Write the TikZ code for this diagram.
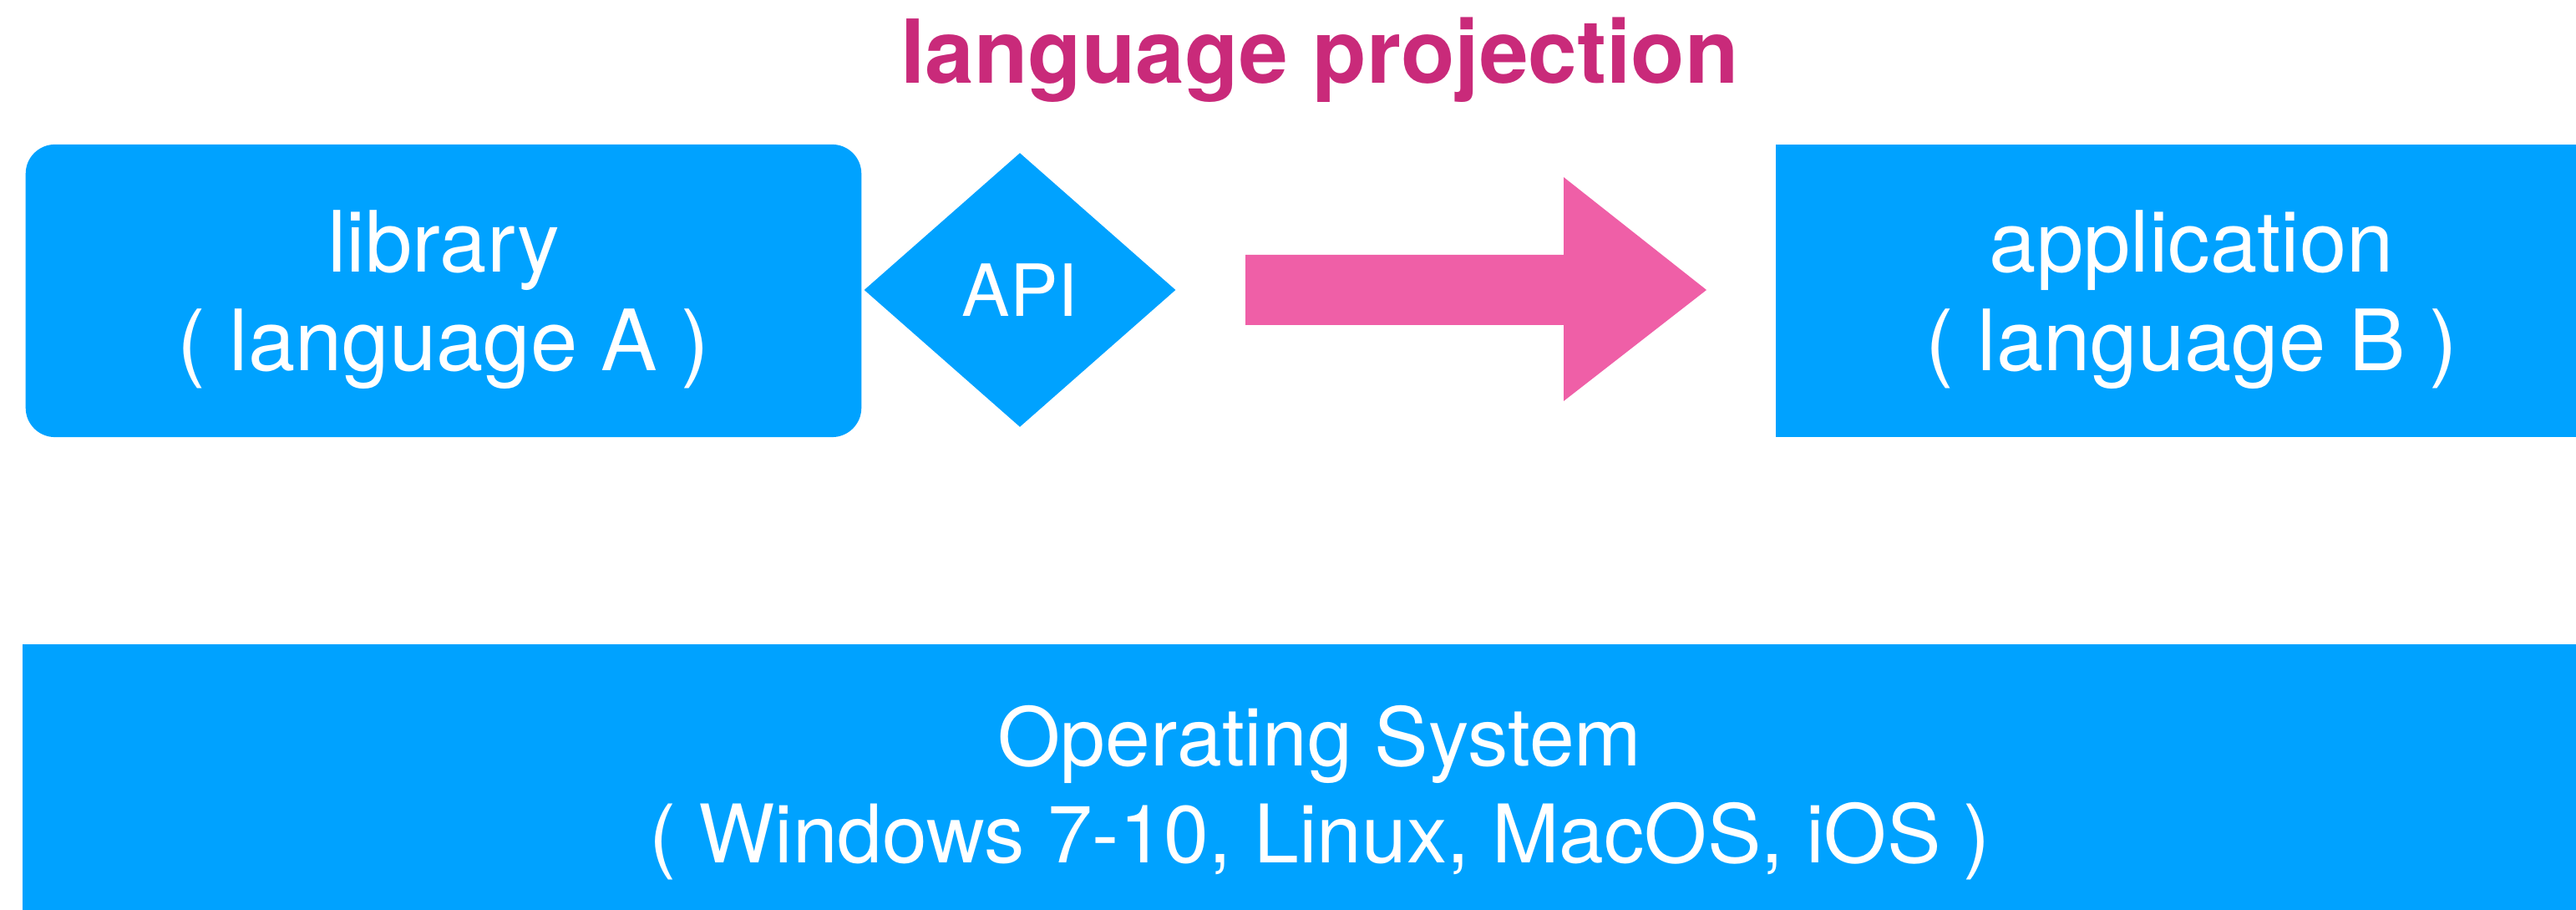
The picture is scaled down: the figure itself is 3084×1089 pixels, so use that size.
\documentclass[tikz,border=0pt]{standalone}
\usepackage{fontspec}
\setmainfont{TeX Gyre Heros}
\usetikzlibrary{shapes.geometric}
\definecolor{boxblue}{HTML}{00A2FF}
\definecolor{arrowpink}{HTML}{EF5FA7}
\definecolor{titlered}{HTML}{C92A7A}

\tikzset{
  block/.style={fill=boxblue, text=white, align=center, inner sep=0pt,
    font=\fontsize{28.8}{33.6}\selectfont},
  heading/.style={text=titlered, font=\bfseries\fontsize{30}{36}\selectfont},
}

\begin{document}
\begin{tikzpicture}[x=0.01cm,y=-0.01cm]
\clip (0,0) rectangle (3084,1089);
% top row
\node[block, text depth=0pt, rounded corners=0.35cm, minimum width=10cm, minimum height=3.5cm] (lib) at (531,348) {library\\( language A )};
\node[block, diamond, font=\fontsize{24.5}{30}\selectfont, minimum width=3.73cm, minimum height=3.28cm] (api) at (1221,347) {API};
\node[block, text depth=0pt, minimum width=9.96cm, minimum height=3.5cm] (app) at (2624,348) {application\\( language B )};
% bottom
\node[block, font=\fontsize{27.5}{33}\selectfont, minimum width=31.04cm, minimum height=3.56cm] (os) at (1580,949) {Operating System\\( Windows 7-10, Linux, MacOS, iOS )};
\node[heading] (title) at (1580,72) {language projection};
% big arrow
\fill[arrowpink] (1491,305) -- (1872,305) -- (1872,212) -- (2043,347)
  -- (1872,480) -- (1872,389) -- (1491,389) -- cycle;
\end{tikzpicture}
\end{document}
